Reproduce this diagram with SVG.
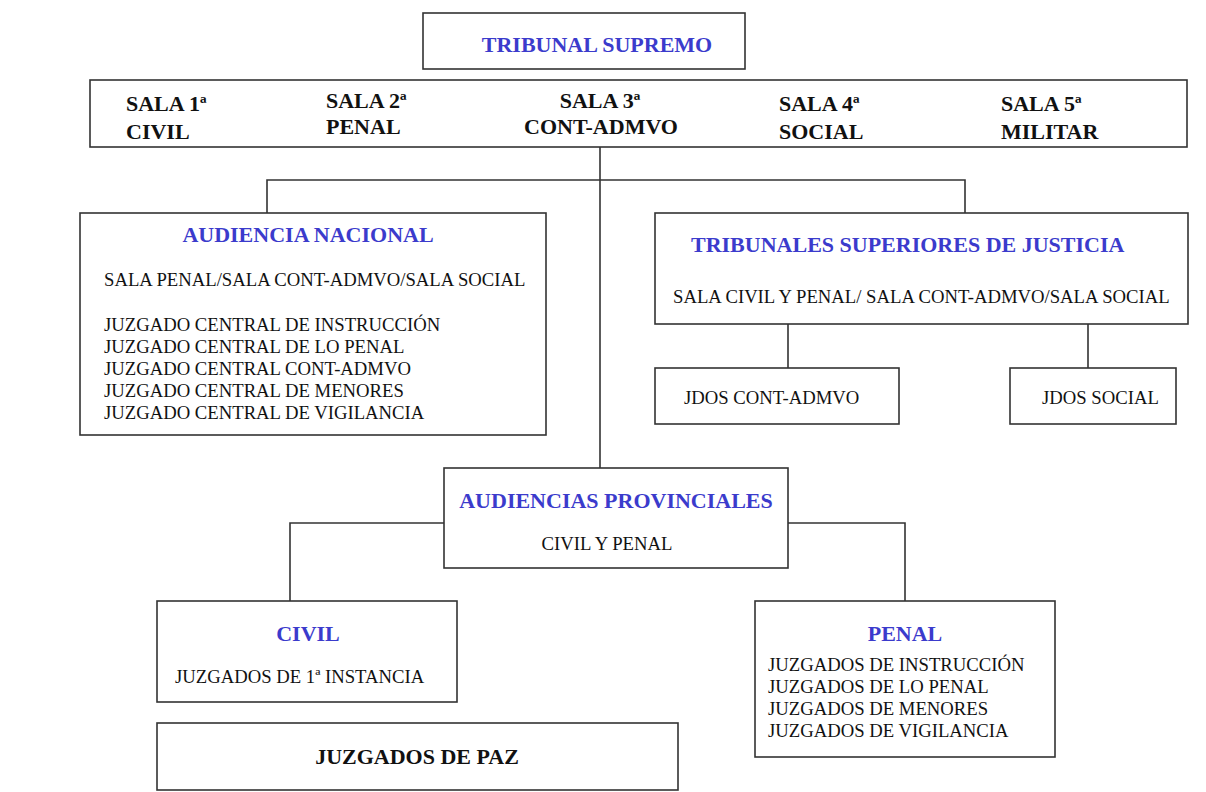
<svg xmlns="http://www.w3.org/2000/svg" width="1206" height="792" viewBox="0 0 1206 792">
<style>
.box{fill:#fff;stroke:#333;stroke-width:1.6}
.ln{fill:none;stroke:#333;stroke-width:1.6}
text{font-family:"Liberation Serif","Times New Roman",serif}
.t{font-size:22px;font-weight:bold;fill:#3b3bcc}
.h{font-size:22px;font-weight:bold;fill:#111}
.b{font-size:18.7px;fill:#111}
.c{text-anchor:middle}
</style>
<rect width="1206" height="792" fill="#fff"/>
<g id="connectors">
<path class="ln" d="M600 147V468"/>
<path class="ln" d="M267 213V180H965V213"/>
<path class="ln" d="M788 324V368M1088 324V368"/>
<path class="ln" d="M444 523H290V601M788 523H905V601"/>
</g>
<g id="tribunal-supremo">
<rect class="box" x="423" y="13" width="322" height="56"/>
<text class="t" x="597" y="52" text-anchor="middle">TRIBUNAL SUPREMO</text>
</g>
<g id="salas">
<rect class="box" x="90" y="80" width="1097" height="67"/>
<text class="h" x="126" y="111">SALA 1ª</text>
<text class="h" x="126" y="139">CIVIL</text>
<text class="h" x="326" y="108">SALA 2ª</text>
<text class="h" x="326" y="134">PENAL</text>
<text class="h c" x="600" y="108">SALA 3ª</text>
<text class="h" x="524" y="134">CONT-ADMVO</text>
<text class="h" x="779" y="111">SALA 4ª</text>
<text class="h" x="779" y="139">SOCIAL</text>
<text class="h" x="1001" y="111">SALA 5ª</text>
<text class="h" x="1001" y="139">MILITAR</text>
</g>
<g id="audiencia-nacional">
<rect class="box" x="80" y="213" width="466" height="222"/>
<text class="t c" x="308" y="242">AUDIENCIA NACIONAL</text>
<text class="b" x="104" y="286">SALA PENAL/SALA CONT-ADMVO/SALA SOCIAL</text>
<text class="b" x="104" y="331">JUZGADO CENTRAL DE INSTRUCCIÓN</text>
<text class="b" x="104" y="353">JUZGADO CENTRAL DE LO PENAL</text>
<text class="b" x="104" y="375">JUZGADO CENTRAL CONT-ADMVO</text>
<text class="b" x="104" y="397">JUZGADO CENTRAL DE MENORES</text>
<text class="b" x="104" y="419">JUZGADO CENTRAL DE VIGILANCIA</text>
</g>
<g id="tsj">
<rect class="box" x="655" y="213" width="533" height="111"/>
<text class="t" x="691" y="252">TRIBUNALES SUPERIORES DE JUSTICIA</text>
<text class="b" x="673" y="303">SALA CIVIL Y PENAL/ SALA CONT-ADMVO/SALA SOCIAL</text>
</g>
<g id="jdos-cont-admvo">
<rect class="box" x="655" y="368" width="244" height="56"/>
<text class="b" x="684" y="404">JDOS CONT-ADMVO</text>
</g>
<g id="jdos-social">
<rect class="box" x="1010" y="368" width="166" height="56"/>
<text class="b" x="1042" y="404">JDOS SOCIAL</text>
</g>
<g id="audiencias-provinciales">
<rect class="box" x="444" y="468" width="344" height="100"/>
<text class="t c" x="616" y="508">AUDIENCIAS PROVINCIALES</text>
<text class="b c" x="607" y="550">CIVIL Y PENAL</text>
</g>
<g id="civil">
<rect class="box" x="157" y="601" width="300" height="101"/>
<text class="t c" x="308" y="641">CIVIL</text>
<text class="b" x="175" y="683">JUZGADOS DE 1ª INSTANCIA</text>
</g>
<g id="penal">
<rect class="box" x="755" y="601" width="300" height="156"/>
<text class="t c" x="905" y="641">PENAL</text>
<text class="b" x="768" y="671">JUZGADOS DE INSTRUCCIÓN</text>
<text class="b" x="768" y="693">JUZGADOS DE LO PENAL</text>
<text class="b" x="768" y="715">JUZGADOS DE MENORES</text>
<text class="b" x="768" y="737">JUZGADOS DE VIGILANCIA</text>
</g>
<g id="juzgados-de-paz">
<rect class="box" x="157" y="723" width="521" height="67"/>
<text class="h c" x="417" y="764">JUZGADOS DE PAZ</text>
</g>
</svg>
